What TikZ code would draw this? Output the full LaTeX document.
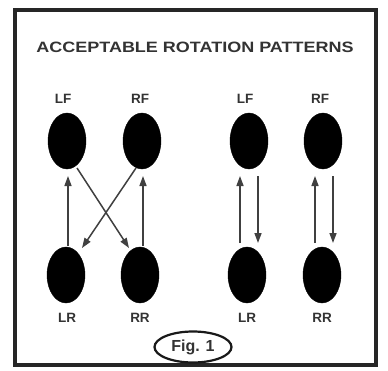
\documentclass[tikz,border=0pt]{standalone}
\usepackage{fontspec}
\setmainfont{Liberation Sans}
\usetikzlibrary{arrows.meta,shapes.geometric}
\begin{document}
\begin{tikzpicture}[x=1pt,y=-1pt,
  wheel/.style={ellipse,fill=black,draw=black,minimum width=38pt,minimum height=56pt,inner sep=0pt},
  lbl/.style={font=\bfseries\fontsize{13.5}{14}\selectfont,text=black!80,inner sep=0pt},
  arr/.style={draw=black!75,line width=1.5pt,-{Triangle[length=10pt,width=7pt]}}]
\useasboundingbox (0,0) rectangle (388,370);
\fill[white] (0,0) rectangle (388,370);
\draw[line width=3.2pt,black!85] (15,10) rectangle (376,365);
\node[font=\bfseries\fontsize{15}{16}\selectfont,text=black!80,inner sep=0pt] (title) at (195,47) {\scalebox{1.2}[1]{ACCEPTABLE ROTATION PATTERNS}};
% left group
\node[wheel] (lf1) at (67,141) {};
\node[wheel] (rf1) at (142,141) {};
\node[wheel] (lr1) at (66,275) {};
\node[wheel] (rr1) at (140,275) {};
\node[lbl] (tlf1) at (63,99) {LF};
\node[lbl] (trf1) at (140,99) {RF};
\node[lbl] (tlr1) at (67,318) {LR};
\node[lbl] (trr1) at (140,318) {RR};
% right group
\node[wheel] (lf2) at (249,141) {};
\node[wheel] (rf2) at (323,141) {};
\node[wheel] (lr2) at (247,275) {};
\node[wheel] (rr2) at (322,275) {};
\node[lbl] (tlf2) at (245,99) {LF};
\node[lbl] (trf2) at (320,99) {RF};
\node[lbl] (tlr2) at (247,318) {LR};
\node[lbl] (trr2) at (322,318) {RR};
% arrows left
\coordinate (a1s) at (68,246); \coordinate (a1e) at (68,176);
\draw[arr] (a1s) -- (a1e);
\coordinate (a2s) at (143,246); \coordinate (a2e) at (143,176);
\draw[arr] (a2s) -- (a2e);
\coordinate (a3s) at (77,168); \coordinate (a3e) at (129,248);
\draw[arr] (a3s) -- (a3e);
\coordinate (a4s) at (136,168); \coordinate (a4e) at (82,248);
\draw[arr] (a4s) -- (a4e);
% arrows right
\coordinate (b1s) at (240,243); \coordinate (b1e) at (240,176);
\draw[arr] (b1s) -- (b1e);
\coordinate (b2s) at (258,176); \coordinate (b2e) at (258,243);
\draw[arr] (b2s) -- (b2e);
\coordinate (b3s) at (315,243); \coordinate (b3e) at (315,176);
\draw[arr] (b3s) -- (b3e);
\coordinate (b4s) at (333,176); \coordinate (b4e) at (333,243);
\draw[arr] (b4s) -- (b4e);
% figure label
\node[ellipse,draw=black!90,line width=2.2pt,minimum width=77pt,minimum height=31pt,inner sep=0pt,font=\bfseries\fontsize{16}{16}\selectfont,text=black!80] (fig) at (193,347) {Fig. 1};
\end{tikzpicture}
\end{document}
